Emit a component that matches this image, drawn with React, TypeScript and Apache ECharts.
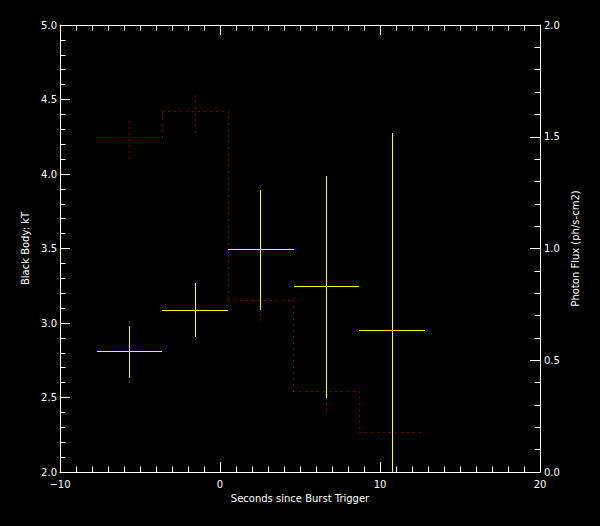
import React, { useEffect, useRef } from "react";
import * as echarts from "echarts";

// Time bins (seconds since burst trigger)
const binEdges = [-7.67, -3.6, 0.52, 4.6, 8.7, 12.8];
const binCenters = [-5.67, -1.54, 2.52, 6.64, 10.77];

// Black body kT (left axis) with errors — yellow crosses
const kT = [2.81, 3.085, 3.495, 3.246, 2.951];
const kTHigh = [2.98, 3.268, 3.893, 3.987, 4.275];
const kTLow = [2.633, 2.908, 3.089, 2.499, 1.63];

// Photon flux (right axis) with errors — red dotted histogram
const flux = [1.498, 1.614, 0.768, 0.361, 0.178];
const fluxHigh = [1.592, 1.708, 0.858, 0.446, 0.26];
const fluxLow = [1.404, 1.52, 0.678, 0.276, 0.096];

const FONT = "DejaVu Sans";
const WHITE = "#ffffff";

const snap = (v: number) => Math.floor(v) + 0.5;

export default function App() {
  const ref = useRef<HTMLDivElement>(null);

  useEffect(() => {
    if (!ref.current) return;
    const chart = echarts.init(ref.current, undefined, { renderer: "svg" });

    const crossData = binCenters.map((c, i) => [
      c,
      binEdges[i],
      binEdges[i + 1],
      kT[i],
      kTLow[i],
      kTHigh[i],
    ]);

    const stepData = flux.map((v, i) => [binEdges[i], binEdges[i + 1], v]);

    const fluxErrData = binCenters.map((c, i) => [c, fluxLow[i], fluxHigh[i]]);

    const axisCommon = {
      axisLine: { show: true, onZero: false, lineStyle: { color: WHITE, width: 1 } },
      splitLine: { show: false },
    };

    const RED = { stroke: "#ff0000", lineWidth: 1, lineDash: [1, 5] };

    const option: any = {
      animation: false,
      backgroundColor: "#000000",
      grid: { left: 60, right: 60, top: 25, bottom: 54, containLabel: false },
      xAxis: [
        {
          type: "value",
          min: -10,
          max: 20,
          interval: 10,
          position: "bottom",
          ...axisCommon,
          axisTick: { show: true, inside: true, length: 10, lineStyle: { color: WHITE } },
          minorTick: { show: true, splitNumber: 10, length: 5.5, lineStyle: { color: WHITE } },
          minorSplitLine: { show: false },
          axisLabel: {
            color: WHITE,
            fontSize: 10,
            fontFamily: FONT,
            margin: 7,
            formatter: (v: number) => String(v).replace("-", "\u2212"),
          },
          name: "Seconds since Burst Trigger",
          nameLocation: "middle",
          nameGap: 21,
          nameTextStyle: { color: WHITE, fontSize: 10, fontFamily: FONT },
        },
        {
          type: "value",
          min: -10,
          max: 20,
          interval: 10,
          position: "top",
          ...axisCommon,
          axisTick: { show: true, inside: true, length: 10, lineStyle: { color: WHITE } },
          minorTick: { show: true, splitNumber: 10, length: 5.5, lineStyle: { color: WHITE } },
          axisLabel: { show: false },
        },
      ],
      yAxis: [
        {
          type: "value",
          min: 2,
          max: 5,
          interval: 0.5,
          position: "left",
          ...axisCommon,
          axisTick: { show: true, inside: true, length: 10, lineStyle: { color: WHITE } },
          minorTick: { show: true, splitNumber: 5, length: 5.5, lineStyle: { color: WHITE } },
          axisLabel: {
            color: WHITE,
            fontSize: 10,
            fontFamily: FONT,
            margin: 3,
            formatter: (v: number) => v.toFixed(1),
          },
          name: "Black Body: kT",
          nameLocation: "middle",
          nameGap: 25,
          nameTextStyle: { color: WHITE, fontSize: 10, fontFamily: FONT },
        },
        {
          type: "value",
          min: 0,
          max: 2,
          interval: 0.5,
          position: "right",
          ...axisCommon,
          axisTick: { show: true, inside: true, length: 10, lineStyle: { color: WHITE } },
          minorTick: { show: true, splitNumber: 5, length: 5.5, lineStyle: { color: WHITE } },
          axisLabel: {
            color: WHITE,
            fontSize: 10,
            fontFamily: FONT,
            margin: 4,
            formatter: (v: number) => v.toFixed(1),
          },
          name: "Photon Flux (ph/s-cm2)",
          nameLocation: "middle",
          nameGap: 22,
          nameTextStyle: { color: WHITE, fontSize: 10, fontFamily: FONT },
        },
      ],
      series: [
        {
          // dotted histogram: horizontal segment per bin plus the vertical join to the next bin
          type: "custom",
          xAxisIndex: 0,
          yAxisIndex: 1,
          data: stepData,
          encode: { x: [0, 1], y: 2 },
          clip: true,
          z: 2,
          renderItem: (p: any, api: any) => {
            const x0 = api.value(0);
            const x1 = api.value(1);
            const v = api.value(2);
            const a = api.coord([x0, v]);
            const b = api.coord([x1, v]);
            const children: any[] = [
              {
                type: "line",
                shape: { x1: snap(a[0]), y1: snap(a[1]), x2: snap(b[0]), y2: snap(a[1]) },
                style: RED,
              },
            ];
            const idx = p.dataIndex;
            if (idx < flux.length - 1) {
              const c = api.coord([x1, flux[idx + 1]]);
              children.push({
                type: "line",
                shape: { x1: snap(b[0]), y1: snap(b[1]), x2: snap(b[0]), y2: snap(c[1]) },
                style: RED,
              });
            }
            return { type: "group", children };
          },
        },
        {
          type: "custom",
          xAxisIndex: 0,
          yAxisIndex: 1,
          data: fluxErrData,
          encode: { x: 0, y: [1, 2] },
          clip: true,
          z: 2,
          renderItem: (_p: any, api: any) => {
            const x = api.value(0);
            const a = api.coord([x, api.value(1)]);
            const b = api.coord([x, api.value(2)]);
            return {
              type: "line",
              shape: { x1: snap(a[0]), y1: snap(a[1]), x2: snap(b[0]), y2: snap(b[1]) },
              style: RED,
            };
          },
        },
        {
          type: "custom",
          xAxisIndex: 0,
          yAxisIndex: 0,
          data: crossData,
          encode: { x: [0, 1, 2], y: [3, 4, 5] },
          clip: true,
          z: 3,
          renderItem: (_p: any, api: any) => {
            const xc = api.value(0);
            const xl = api.value(1);
            const xh = api.value(2);
            const y = api.value(3);
            const yl = api.value(4);
            const yh = api.value(5);
            const pL = api.coord([xl, y]);
            const pH = api.coord([xh, y]);
            const pT = api.coord([xc, yh]);
            const pB = api.coord([xc, yl]);
            const st = { stroke: "#ffff00", lineWidth: 1 };
            const yy = snap(pL[1]);
            const xx = snap(pT[0]);
            return {
              type: "group",
              children: [
                { type: "line", shape: { x1: Math.round(pL[0]), y1: yy, x2: Math.round(pH[0]), y2: yy }, style: st },
                { type: "line", shape: { x1: xx, y1: Math.round(pT[1]), x2: xx, y2: Math.round(pB[1]) }, style: st },
              ],
            };
          },
        },
      ],
    };

    chart.setOption(option);
    return () => chart.dispose();
  }, []);

  return (
    <div
      ref={ref}
      style={{ position: "absolute", left: 0, top: 0, width: 600, height: 526 }}
    />
  );
}
